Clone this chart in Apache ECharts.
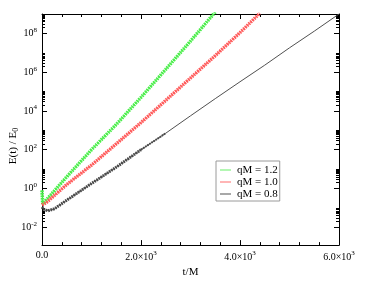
<!DOCTYPE html>
<html>
<head>
<meta charset="utf-8">
<script src="https://cdn.jsdelivr.net/npm/echarts@6/dist/echarts.min.js"></script>
<style>
html,body{margin:0;padding:0;background:#fff;}
#c{width:366px;height:283px;}
</style>
</head>
<body>
<div id="c"></div>
<script>
// ---- data ----
var tGreen = [0, 15, 100, 500, 1000, 1500, 2000, 2500, 3000, 3500];
var eGreen = [0.79, 0.16, 0.28, 4.0, 100, 2.0e3, 5.0e4, 1.4e6, 4.0e7, 1.26e9];

var tRed = [0, 100, 500, 1000, 1500, 2000, 2500, 3000, 3500, 4000, 4400];
var eRed = [0.14, 0.2, 1.6, 16, 200, 2.5e3, 3.5e4, 5.0e5, 7.1e6, 1.1e8, 1.1e9];

var tGray = [0, 50, 120, 250, 500, 1000, 1500, 2000, 2500, 3000, 3500, 4000, 4500, 5000, 5500, 6000];
var eGray = [0.11, 0.079, 0.071, 0.089, 0.25, 1.8, 12.6, 100, 710, 5.6e3, 4.3e4, 3.2e5, 2.3e6, 1.8e7, 1.3e8, 1.0e9];

var seriesNames = ['qM = 1.2', 'qM = 1.0', 'qM = 0.8'];
var seriesColors = ['#48ee48', '#ff5a5a', '#4a4a4a'];
var legendColors = ['#66ee66', '#ff6a6a', '#505050'];
var xTicks = [0, 2000, 4000, 6000];
var yLabelValues = [1e-2, 1, 1e2, 1e4, 1e6, 1e8];
var yMinorMantissa = [2, 3, 4, 5, 6, 7, 8, 9, 10];

function pairs(t, e) { return t.map(function (v, i) { return [v, e[i]]; }); }
var yMinorValues = [];
yLabelValues.forEach(function (d) {
  yMinorMantissa.forEach(function (k) { yMinorValues.push(k * d); });
});

var FONT = "'Liberation Serif','DejaVu Serif',serif";
var grayThickEnd = tGray.indexOf(2000) + 1;
var grayMidEnd = tGray.indexOf(2500) + 1;
var grayMidStart = tGray.indexOf(2000);

var chart = echarts.init(document.getElementById('c'), null, {renderer: 'canvas'});

function xLabel(v) {
  if (v === 0) return '{b|0.0}';
  return '{b|' + (v / 1000).toFixed(1) + '\u00d710}{s|3}';
}
function yLabel(v) {
  var p = Math.round(Math.log10(v));
  return '{b|10}{s|' + p + '}';
}
var labelRich = {
  b: {fontFamily: FONT, fontSize: 10, color: '#000'},
  s: {fontFamily: FONT, fontSize: 7, color: '#000', padding: [0, 0, 7, 0]}
};
var tickStyle = {color: '#000', width: 1};
var lineAx = {show: true, lineStyle: {color: '#000', width: 1}};

var xBase = {
  type: 'value', min: 0, max: 6000, interval: 2000,
  splitLine: {show: false},
  axisLine: lineAx,
  axisTick: {show: true, inside: true, length: 5, lineStyle: tickStyle},
  minorTick: {show: true, splitNumber: 5, length: 3, lineStyle: tickStyle},
  minorSplitLine: {show: false}
};
var yBase = {
  type: 'log', logBase: 10, min: 1.2e-3, max: 1e9,
  splitLine: {show: false}
};

function thin(i, t, e) {
  return {name: seriesNames[i], type: 'line', data: pairs(t, e), showSymbol: false, symbol: 'none',
    color: legendColors[i], lineStyle: {width: 1, color: legendColors[i], type: 'solid'}, clip: true, z: 2};
}
function band(i, t, e, w) {
  return {name: seriesNames[i], type: 'line', data: pairs(t, e), showSymbol: false, symbol: 'none',
    color: seriesColors[i], lineStyle: {width: w, color: seriesColors[i], type: [1.6, 0.9], cap: 'butt'}, clip: true, z: 3};
}

var option = {
  animation: false,
  backgroundColor: '#fff',
  grid: {left: 42, right: 27, top: 14, bottom: 30, containLabel: false},
  legend: {
    orient: 'vertical', left: 216, top: 161,
    data: seriesNames,
    icon: 'rect',
    itemWidth: 11, itemHeight: 1, itemGap: 0,
    lineStyle: {width: 1, type: 'solid'},
    padding: [3, 2, 1, 4],
    borderColor: '#9a9a9a', borderWidth: 1, backgroundColor: '#fff',
    textStyle: {fontFamily: FONT, fontSize: 11, color: '#000', lineHeight: 12, padding: [0, 0, 0, 1]},
    selectedMode: false
  },
  xAxis: [
    Object.assign({}, xBase, {
      position: 'bottom',
      axisLabel: {show: true, margin: 5, formatter: xLabel, rich: labelRich},
      name: 't/M', nameLocation: 'middle', nameGap: 16,
      nameTextStyle: {fontFamily: FONT, fontSize: 11, color: '#000'}
    }),
    Object.assign({}, xBase, {position: 'top', axisLabel: {show: false}})
  ],
  yAxis: [
    Object.assign({}, yBase, {
      position: 'left',
      axisLine: lineAx,
      axisTick: {show: true, inside: true, length: 5, lineStyle: tickStyle, customValues: yLabelValues},
      axisLabel: {show: true, margin: 5, customValues: yLabelValues, formatter: yLabel, rich: labelRich}
    }),
    Object.assign({}, yBase, {
      position: 'left',
      axisLine: {show: false},
      axisTick: {show: true, inside: true, length: 3, lineStyle: tickStyle, customValues: yMinorValues},
      axisLabel: {show: false}
    }),
    Object.assign({}, yBase, {
      position: 'right',
      axisLine: lineAx,
      axisTick: {show: true, inside: true, length: 5, lineStyle: tickStyle, customValues: yLabelValues},
      axisLabel: {show: false}
    }),
    Object.assign({}, yBase, {
      position: 'right',
      axisLine: {show: false},
      axisTick: {show: true, inside: true, length: 3, lineStyle: tickStyle, customValues: yMinorValues},
      axisLabel: {show: false}
    })
  ],
  graphic: [{
    type: 'text', x: 13, y: 146, rotation: Math.PI / 2,
    style: {
      text: '{a|E(t) / E}{s|0}',
      align: 'center', verticalAlign: 'middle',
      rich: {
        a: {fontFamily: FONT, fontSize: 11, fill: '#000'},
        s: {fontFamily: FONT, fontSize: 8, fill: '#000', padding: [5, 0, 0, 0]}
      }
    }
  }],
  series: [
    thin(0, tGreen, eGreen),
    thin(1, tRed, eRed),
    thin(2, tGray, eGray),
    band(0, tGreen, eGreen, 3.5),
    band(1, tRed, eRed, 3.5),
    band(2, tGray.slice(0, grayThickEnd), eGray.slice(0, grayThickEnd), 3),
    band(2, tGray.slice(grayMidStart, grayMidEnd), eGray.slice(grayMidStart, grayMidEnd), 2)
  ]
};
chart.setOption(option);
</script>
</body>
</html>
